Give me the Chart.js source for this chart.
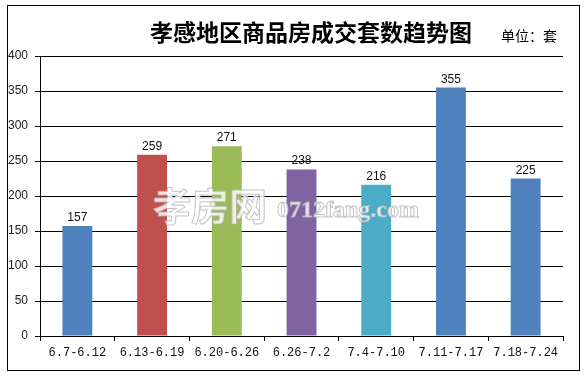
<!DOCTYPE html>
<html>
<head>
<meta charset="utf-8">
<script src="https://cdn.jsdelivr.net/npm/chart.js@4"></script>
<style>
  html, body { margin: 0; padding: 0; background: #fff; }
  #wrap { width: 588px; height: 377px; }
</style>
</head>
<body>
<div id="wrap"><canvas id="myChart" width="588" height="377"></canvas></div>
<script>
const categories = ["6.7-6.12", "6.13-6.19", "6.20-6.26", "6.26-7.2", "7.4-7.10", "7.11-7.17", "7.18-7.24"];
const units = [157, 259, 271, 238, 216, 355, 225];
const barColors = ["#4F81BD", "#C0504D", "#9BBB59", "#8064A2", "#4BACC6", "#4F81BD", "#4F81BD"];
const yTicks = [0, 50, 100, 150, 200, 250, 300, 350, 400];
const titleText = "孝感地区商品房成交套数趋势图";
const unitText = "单位：套";

// frame, title, watermark and value labels
const decorations = {
  id: "decorations",
  beforeDraw(chart) {
    const ctx = chart.ctx;
    ctx.save();
    ctx.fillStyle = "#fff";
    ctx.fillRect(0, 0, chart.width, chart.height);
    ctx.restore();
  },
  afterDatasetsDraw(chart) {
    const ctx = chart.ctx;
    const meta = chart.getDatasetMeta(0);
    ctx.save();
    ctx.fillStyle = "#111";
    ctx.font = "12px 'Liberation Sans', Arial, sans-serif";
    ctx.textAlign = "center";
    ctx.textBaseline = "alphabetic";
    meta.data.forEach((bar, i) => {
      ctx.fillText(String(units[i]), bar.x, bar.y - 5);
    });

    // watermark
    ctx.globalAlpha = 0.8;
    ctx.lineWidth = 1;
    ctx.strokeStyle = "#b5b5b5";
    ctx.fillStyle = "#fff";
    ctx.textAlign = "left";
    ctx.textBaseline = "middle";
    ctx.font = "bold 38px 'Noto Sans CJK SC', sans-serif";
    ctx.fillText("孝房网", 153, 206);
    ctx.strokeText("孝房网", 153, 206);
    ctx.font = "bold 24px 'Liberation Serif', 'DejaVu Serif', serif";
    ctx.fillText("0712fang.com", 277, 211);
    ctx.strokeText("0712fang.com", 277, 211);
    ctx.restore();
  },
  afterDraw(chart) {
    const ctx = chart.ctx;
    ctx.save();
    ctx.strokeStyle = "#000";
    ctx.lineWidth = 1;
    ctx.strokeRect(7.5, 5.5, 572, 365);
    ctx.fillStyle = "#000";
    ctx.textBaseline = "middle";
    ctx.textAlign = "center";
    ctx.font = "bold 23px 'Noto Sans CJK SC', sans-serif";
    ctx.fillText(titleText, 311, 32);
    ctx.font = "14px 'Noto Sans CJK SC', sans-serif";
    ctx.textAlign = "left";
    ctx.fillText(unitText, 501, 36);
    ctx.restore();
  }
};

const ctx = document.getElementById("myChart").getContext("2d");
new Chart(ctx, {
  type: "bar",
  data: {
    labels: categories,
    datasets: [
      {
        label: "成交套数",
        data: units,
        backgroundColor: barColors,
        borderWidth: 0,
        barPercentage: 0.4,
        categoryPercentage: 1.0,
      },
    ],
  },
  options: {
    responsive: false,
    animation: false,
    devicePixelRatio: 1,
    layout: { padding: { left: 0, top: 56, right: 25, bottom: 0 } },
    plugins: {
      legend: { display: false },
      tooltip: { enabled: false },
      title: { display: false },
    },
    scales: {
      x: {
        afterFit: (scale) => { scale.height = 41; },
        grid: {
          offset: true,
          drawOnChartArea: false,
          drawTicks: true,
          tickLength: 5,
          color: "#000",
        },
        border: { color: "#000", width: 1 },
        ticks: {
          color: "#111",
          padding: 5,
          maxRotation: 0,
          autoSkip: false,
          font: { family: "'Liberation Mono', 'DejaVu Sans Mono', monospace", size: 12 },
        },
      },
      y: {
        min: 0,
        max: 400,
        afterFit: (scale) => { scale.width = 40; },
        afterBuildTicks: (scale) => { scale.ticks = yTicks.map((v) => ({ value: v })); },
        grid: { color: "#000", lineWidth: 1, tickLength: 5 },
        border: { color: "#000", width: 1 },
        ticks: {
          color: "#222",
          padding: 7,
          font: { family: "'Liberation Sans', Arial, sans-serif", size: 12 },
        },
      },
    },
  },
  plugins: [decorations],
});
</script>
</body>
</html>
